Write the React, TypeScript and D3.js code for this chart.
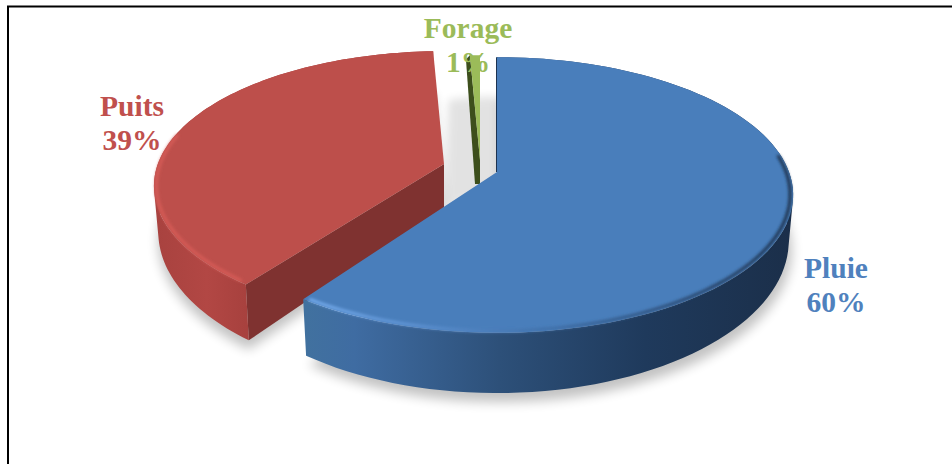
import React from "react";
import * as d3 from "d3";

const categories = ["Pluie", "Puits", "Forage"];
const sliceValues = [60, 39.3, 0.7];
const percentLabels = ["60%", "39%", "1%"];
const labelColors = ["#4f81bd", "#c0504d", "#9bbb59"];
const labelCenters = [[836, 278], [132, 116], [468, 38]];
const apexes = [[497, 172], [444, 164], [480, 160]];
const radiusFactors = [1, 0.98, 0.9];

const W = 952, H = 464;
const RX = 292, RY = 134, PERSP = 1 / 6, DEPTH = 44, DEPTH_P = 0.27, BASE_X = 0.985;

type P = [number, number];
const top = (i: number, a: number, rf = radiusFactors[i]): P => {
  const u = Math.sin(a) * rf, v = -Math.cos(a) * rf, w = 1 - PERSP * v;
  return [apexes[i][0] + (u * RX) / w, apexes[i][1] + (v * RY) / w];
};
const base = (i: number, a: number, rf = radiusFactors[i]): P => {
  const v = -Math.cos(a) * rf;
  const t = top(i, a, rf);
  return [apexes[i][0] + (t[0] - apexes[i][0]) * BASE_X, t[1] + DEPTH / (1 - DEPTH_P * v)];
};
const line = d3.line<P>();
const rim = (fn: (i: number, a: number, rf?: number) => P, i: number, a0: number, a1: number, rf?: number) =>
  d3.range(0, 101).map((k) => fn(i, a0 + ((a1 - a0) * k) / 100, rf));

// the exploded wedges do not quite meet along the Pluie/Puits joint
const JOINT = 0.018;
const arcs = d3.pie<number>().sort(null).startAngle(0).endAngle(2 * Math.PI)(sliceValues).map((a, i) => ({
  startAngle: a.startAngle + (i === 1 ? JOINT : 0),
  endAngle: a.endAngle - (i === 0 ? JOINT : 0),
}));

export default function App() {
  const [pl, pu, fo] = arcs;
  const apexBase = (i: number): P => base(i, 0, 0);
  const topFace = (i: number) => {
    const a = arcs[i];
    return line([[apexes[i][0], apexes[i][1]], ...rim(top, i, a.startAngle, a.endAngle)])! + "Z";
  };
  const baseFace = (i: number) => {
    const a = arcs[i];
    return line([apexBase(i), ...rim(base, i, a.startAngle, a.endAngle)])! + "Z";
  };
  // the wall is swept quad by quad (same winding, one path) so that its silhouette
  // includes the tangents between rim and base without seams
  const wallPath = (i: number) => {
    const a = arcs[i];
    const t = rim(top, i, a.startAngle, a.endAngle);
    const b = rim(base, i, a.startAngle, a.endAngle);
    return d3
      .range(0, 100)
      .map((k) => {
        const q: P[] = [t[k], t[k + 1], b[k + 1], b[k]];
        return line(d3.polygonArea(q) < 0 ? q.reverse() : q)! + "Z";
      })
      .join("");
  };
  const edgeWall = (i: number, ang: number) =>
    line([[apexes[i][0], apexes[i][1]], top(i, ang), base(i, ang), apexBase(i)])! + "Z";

  const foApex: P = [apexes[2][0], apexes[2][1]];
  const foStart = top(2, fo.startAngle);
  const foWall = line([
    foApex,
    [foApex[0], foApex[1] + 24],
    [foApex[0] - 5, foApex[1] + 24],
    [foStart[0] - 4, foStart[1] + 4],
    foStart,
  ])! + "Z";
  const gapShadow = line([
    apexBase(1),
    [apexes[0][0] + 4, apexes[0][1] + 22],
    ...rim(top, 0, 0.02, -0.3, 0.62),
  ])! + "Z";

  return (
    <svg width={W} height={H} viewBox={`0 0 ${W} ${H}`} style={{ position: "absolute", left: 0, top: 0 }}>
      <defs>
        <filter id="soft" x="-20%" y="-20%" width="140%" height="140%"><feGaussianBlur stdDeviation="6" /></filter>
        <filter id="soft4" x="-40%" y="-40%" width="180%" height="180%"><feGaussianBlur stdDeviation="4" /></filter>
        <filter id="soft2" x="-20%" y="-20%" width="140%" height="140%"><feGaussianBlur stdDeviation="1.5" /></filter>
        <filter id="soft1" x="-5%" y="-5%" width="110%" height="110%"><feGaussianBlur stdDeviation="0.5" /></filter>
        <linearGradient id="blueWall" gradientUnits="userSpaceOnUse" x1="306" x2="790" y1="0" y2="0">
          <stop offset="0" stopColor="#41719f" />
          <stop offset="0.1" stopColor="#3f6ca2" />
          <stop offset="0.4" stopColor="#2d5079" />
          <stop offset="0.7" stopColor="#1f3a5c" />
          <stop offset="1" stopColor="#1b2f4a" />
        </linearGradient>
        <linearGradient id="redWall" gradientUnits="userSpaceOnUse" x1="154" x2="260" y1="0" y2="0">
          <stop offset="0" stopColor="#a8423f" />
          <stop offset="0.5" stopColor="#b24744" />
          <stop offset="1" stopColor="#a43f3c" />
        </linearGradient>
        <linearGradient id="blueRim" gradientUnits="userSpaceOnUse" x1="306" x2="790" y1="0" y2="0">
          <stop offset="0" stopColor="#78aff0" />
          <stop offset="0.25" stopColor="#5b8fcf" />
          <stop offset="0.5" stopColor="#3f6fa8" />
          <stop offset="0.8" stopColor="#28466c" />
          <stop offset="1" stopColor="#1b2f4a" />
        </linearGradient>
      </defs>
      <rect width={W} height={H} fill="#ffffff" />

      <g filter="url(#soft)" fill="#000" opacity={0.24}>
        <path d={baseFace(0)} transform="translate(3,9)" />
        <path d={baseFace(1)} transform="translate(0,9)" />
      </g>
      <path d={gapShadow} fill="#000" opacity={0.11} filter="url(#soft4)" />

      {/* Forage */}
      <path d={foWall} fill="#3c4f1c" filter="url(#soft1)" />
      <path d={topFace(2)} fill={labelColors[2]} />

      {/* Puits */}
      <path d={edgeWall(1, pu.startAngle)} fill="#7f3230" />
      <path d={wallPath(1)} fill="url(#redWall)" fillRule="nonzero" />
      <path d={topFace(1)} fill="#bd4f4b" filter="url(#soft1)" />
      <path
        d={line(rim(top, 1, pu.startAngle + 0.03, pu.startAngle + 1.15, 0.972))!}
        fill="none" stroke="#d65b57" strokeWidth={3} strokeLinecap="round" filter="url(#soft2)"
      />

      {/* Pluie */}
      <path d={wallPath(0)} fill="url(#blueWall)" fillRule="nonzero" />
      <path d={line([[apexes[0][0], apexes[0][1]], top(0, 0)])!} stroke="#1d3350" strokeWidth={2} fill="none" />
      <path d={topFace(0)} fill="#4a7ebb" filter="url(#soft1)" />
      <path
        d={line(rim(top, 0, pl.startAngle + 1.45, pl.endAngle - 0.02, 0.99))!}
        fill="none" stroke="url(#blueRim)" strokeWidth={3} strokeLinecap="round" filter="url(#soft2)"
      />

      <g fontFamily="'Liberation Serif', 'Times New Roman', serif" fontWeight="bold" fontSize={29.5} textAnchor="middle">
        {categories.map((c, i) => (
          <text key={c} fill={labelColors[i]}>
            <tspan x={labelCenters[i][0]} y={labelCenters[i][1]}>{c}</tspan>
            <tspan x={labelCenters[i][0]} y={labelCenters[i][1] + 34}>{percentLabels[i]}</tspan>
          </text>
        ))}
      </g>

      <path d={`M8 ${H}V6.5H${W}`} fill="none" stroke="#000" strokeWidth={2} />
    </svg>
  );
}
